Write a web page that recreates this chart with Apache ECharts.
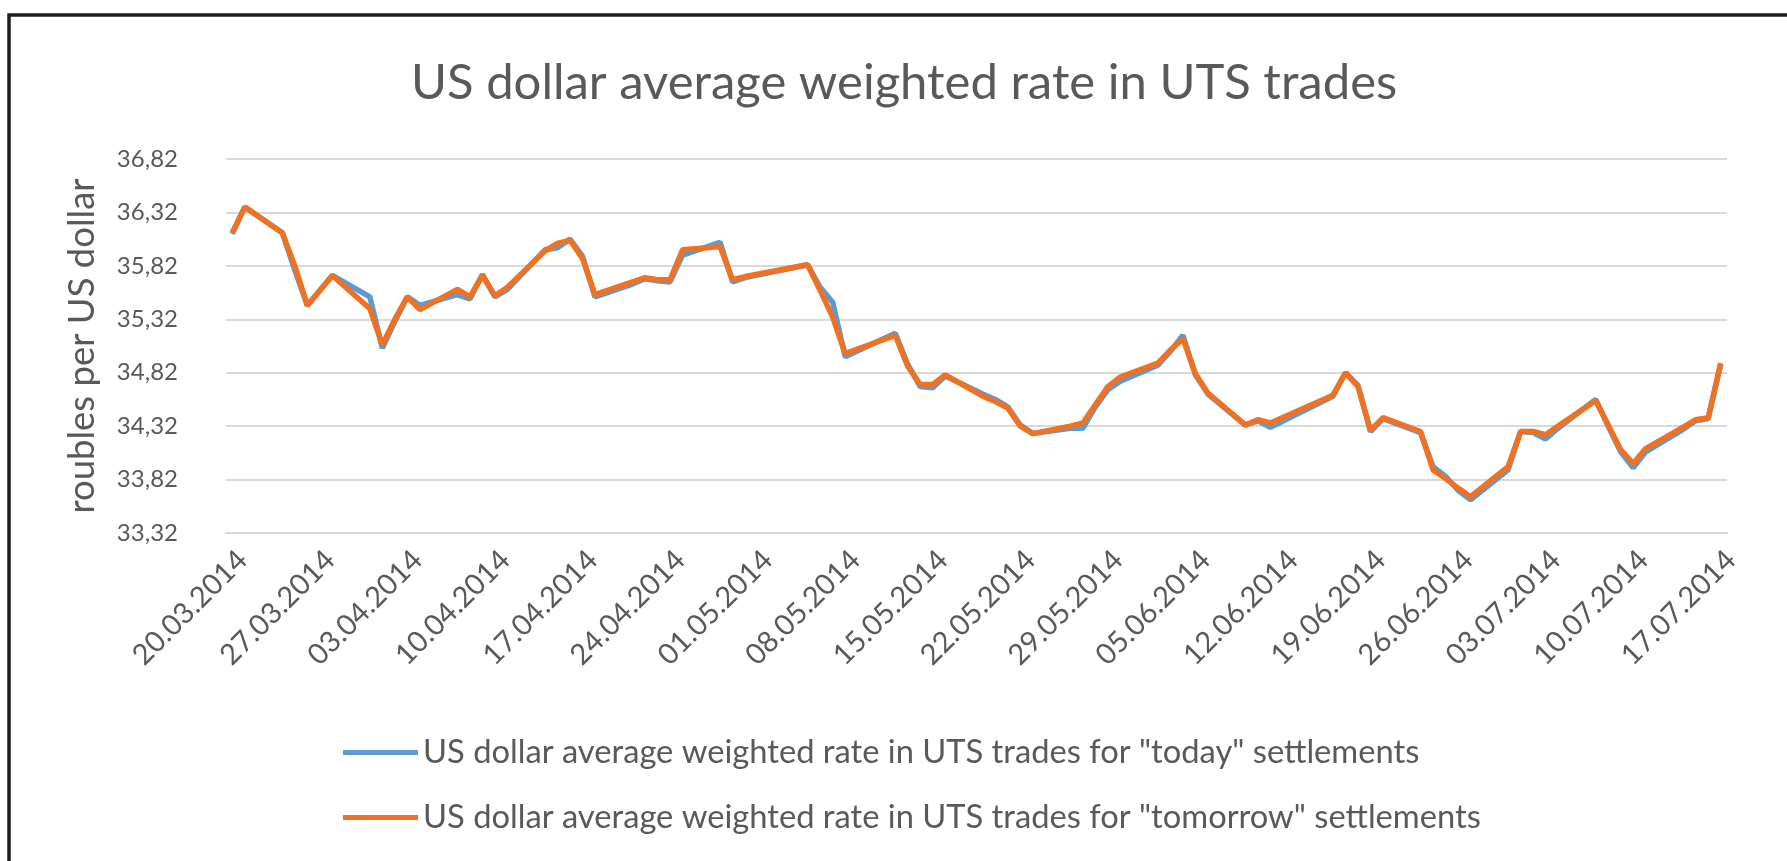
<!DOCTYPE html>
<html>
<head>
<meta charset="utf-8">
<title>US dollar average weighted rate in UTS trades</title>
<script src="https://cdn.jsdelivr.net/npm/echarts@6/dist/echarts.min.js"></script>
<style>
    html, body { margin: 0; padding: 0; background: #fff; }
    #chart { width: 1787px; height: 861px; }
</style>
</head>
<body>
<div id="chart"></div>
<script>
// trading days of 2014 (dd.mm), weekends and holidays are missing
var tradeDates = [
    '20.03','21.03','24.03','25.03','26.03','27.03','28.03','31.03',
    '01.04','02.04','03.04','04.04','07.04','08.04','09.04','10.04','11.04',
    '14.04','15.04','16.04','17.04','18.04','21.04','22.04','23.04','24.04','25.04',
    '28.04','29.04','30.04','05.05','06.05','07.05','08.05',
    '12.05','13.05','14.05','15.05','16.05','19.05','20.05','21.05','22.05','23.05',
    '26.05','27.05','28.05','29.05','30.05','02.06','03.06','04.06','05.06','06.06',
    '09.06','10.06','11.06','16.06','17.06','18.06','19.06','20.06',
    '23.06','24.06','25.06','26.06','27.06','30.06','01.07','02.07','03.07','04.07',
    '07.07','08.07','09.07','10.07','11.07','14.07','15.07','16.07','17.07'
];

// "today" settlements
var todayRates = [
    36.12, 36.37, 36.13, 35.78, 35.45, 35.59, 35.73, 35.53,
    35.05, 35.30, 35.53, 35.45, 35.55, 35.51, 35.74, 35.53, 35.60,
    35.97, 35.99, 36.07, 35.91, 35.53, 35.65, 35.70, 35.68, 35.67, 35.92,
    36.04, 35.67, 35.71, 35.83, 35.62, 35.48, 34.97,
    35.19, 34.90, 34.69, 34.68, 34.79, 34.62, 34.57, 34.50, 34.33, 34.25,
    34.30, 34.30, 34.50, 34.66, 34.74, 34.89, 35.02, 35.17, 34.80, 34.62,
    34.33, 34.37, 34.31, 34.60, 34.82, 34.70, 34.27, 34.39,
    34.26, 33.94, 33.85, 33.72, 33.63, 33.91, 34.27, 34.26, 34.20, 34.30,
    34.57, 34.32, 34.08, 33.93, 34.08, 34.29, 34.37, 34.39, 34.90
];

// "tomorrow" settlements
var tomorrowRates = [
    36.13, 36.37, 36.13, 35.82, 35.45, 35.59, 35.73, 35.42,
    35.08, 35.32, 35.53, 35.41, 35.60, 35.53, 35.73, 35.54, 35.62,
    35.96, 36.03, 36.06, 35.89, 35.55, 35.67, 35.71, 35.69, 35.69, 35.97,
    36.00, 35.69, 35.72, 35.83, 35.59, 35.34, 35.00,
    35.17, 34.88, 34.71, 34.71, 34.80, 34.60, 34.55, 34.49, 34.32, 34.25,
    34.32, 34.35, 34.52, 34.69, 34.78, 34.91, 35.03, 35.14, 34.81, 34.63,
    34.33, 34.38, 34.35, 34.61, 34.82, 34.69, 34.28, 34.40,
    34.27, 33.91, 33.83, 33.74, 33.66, 33.94, 34.27, 34.27, 34.24, 34.32,
    34.56, 34.33, 34.10, 33.97, 34.11, 34.31, 34.38, 34.40, 34.91
];

var seriesNames = [
    'US dollar average weighted rate in UTS trades for "today" settlements',
    'US dollar average weighted rate in UTS trades for "tomorrow" settlements'
];

var yMin = 33.32, yMax = 36.82, yStep = 0.5;

function pad(n) { return (n < 10 ? '0' : '') + n; }

// date axis: one slot per calendar day
var days = [];
var dayKeys = [];
var cur = new Date(2014, 2, 20);
var last = new Date(2014, 6, 17);
while (cur <= last) {
    var key = pad(cur.getDate()) + '.' + pad(cur.getMonth() + 1);
    dayKeys.push(key);
    days.push(key + '.' + cur.getFullYear());
    cur.setDate(cur.getDate() + 1);
}

function onDays(values) {
    return dayKeys.map(function (k) {
        var i = tradeDates.indexOf(k);
        return i < 0 ? null : values[i];
    });
}

var font = 'Lato';
var grey = '#595959';

var chart = echarts.init(document.getElementById('chart'));

var option = {
    backgroundColor: '#fff',
    animation: false,
    textStyle: { fontFamily: font },
    title: {
        text: 'US dollar average weighted rate in UTS trades',
        left: 406,
        top: 54,
        textStyle: { fontFamily: font, fontSize: 49, fontWeight: 'normal', color: grey }
    },
    graphic: [{
        type: 'rect',
        shape: { x: 9, y: 15, width: 1900, height: 1000 },
        style: { fill: 'none', stroke: '#1e1e1e', lineWidth: 3.5 }
    }],
    legend: {
        orient: 'vertical',
        left: 338,
        top: 731,
        itemGap: 32,
        itemWidth: 75,
        itemHeight: 5,
        icon: 'rect',
        textStyle: { fontFamily: font, fontSize: 32.7, color: grey },
        data: seriesNames
    },
    grid: {
        left: 226,
        right: 60,
        top: 159,
        bottom: 328,
        outerBoundsMode: 'none'
    },
    xAxis: {
        type: 'category',
        data: days,
        boundaryGap: true,
        axisLine: { lineStyle: { color: '#d9d9d9', width: 2 } },
        axisTick: { interval: 6, length: 9, lineStyle: { color: '#d9d9d9', width: 2 } },
        axisLabel: {
            interval: 6,
            rotate: 45,
            margin: 12,
            verticalAlign: 'top',
            fontFamily: font,
            fontSize: 29,
            color: grey
        },
        splitLine: { show: false }
    },
    yAxis: {
        type: 'value',
        min: yMin,
        max: yMax,
        interval: yStep,
        name: 'roubles per US dollar',
        nameLocation: 'middle',
        nameGap: 125,
        nameTextStyle: { fontFamily: font, fontSize: 36.5, color: grey },
        axisLine: { show: false },
        axisTick: { show: false },
        axisLabel: {
            margin: 48,
            fontFamily: font,
            fontSize: 24,
            color: grey,
            formatter: function (v) { return v.toFixed(2).replace('.', ','); }
        },
        splitLine: { lineStyle: { color: '#d9d9d9', width: 2 } }
    },
    series: [
        {
            name: seriesNames[0],
            type: 'line',
            data: onDays(todayRates),
            connectNulls: true,
            showSymbol: false,
            symbol: 'none',
            color: '#5B9BD5',
            lineStyle: { color: '#5B9BD5', width: 5.5 }
        },
        {
            name: seriesNames[1],
            type: 'line',
            data: onDays(tomorrowRates),
            connectNulls: true,
            showSymbol: false,
            symbol: 'none',
            color: '#EF7122',
            lineStyle: { color: '#EF7122', width: 5.5 }
        }
    ]
};

chart.setOption(option);

window.addEventListener('resize', function () {
    chart.resize();
});
</script>
</body>
</html>
